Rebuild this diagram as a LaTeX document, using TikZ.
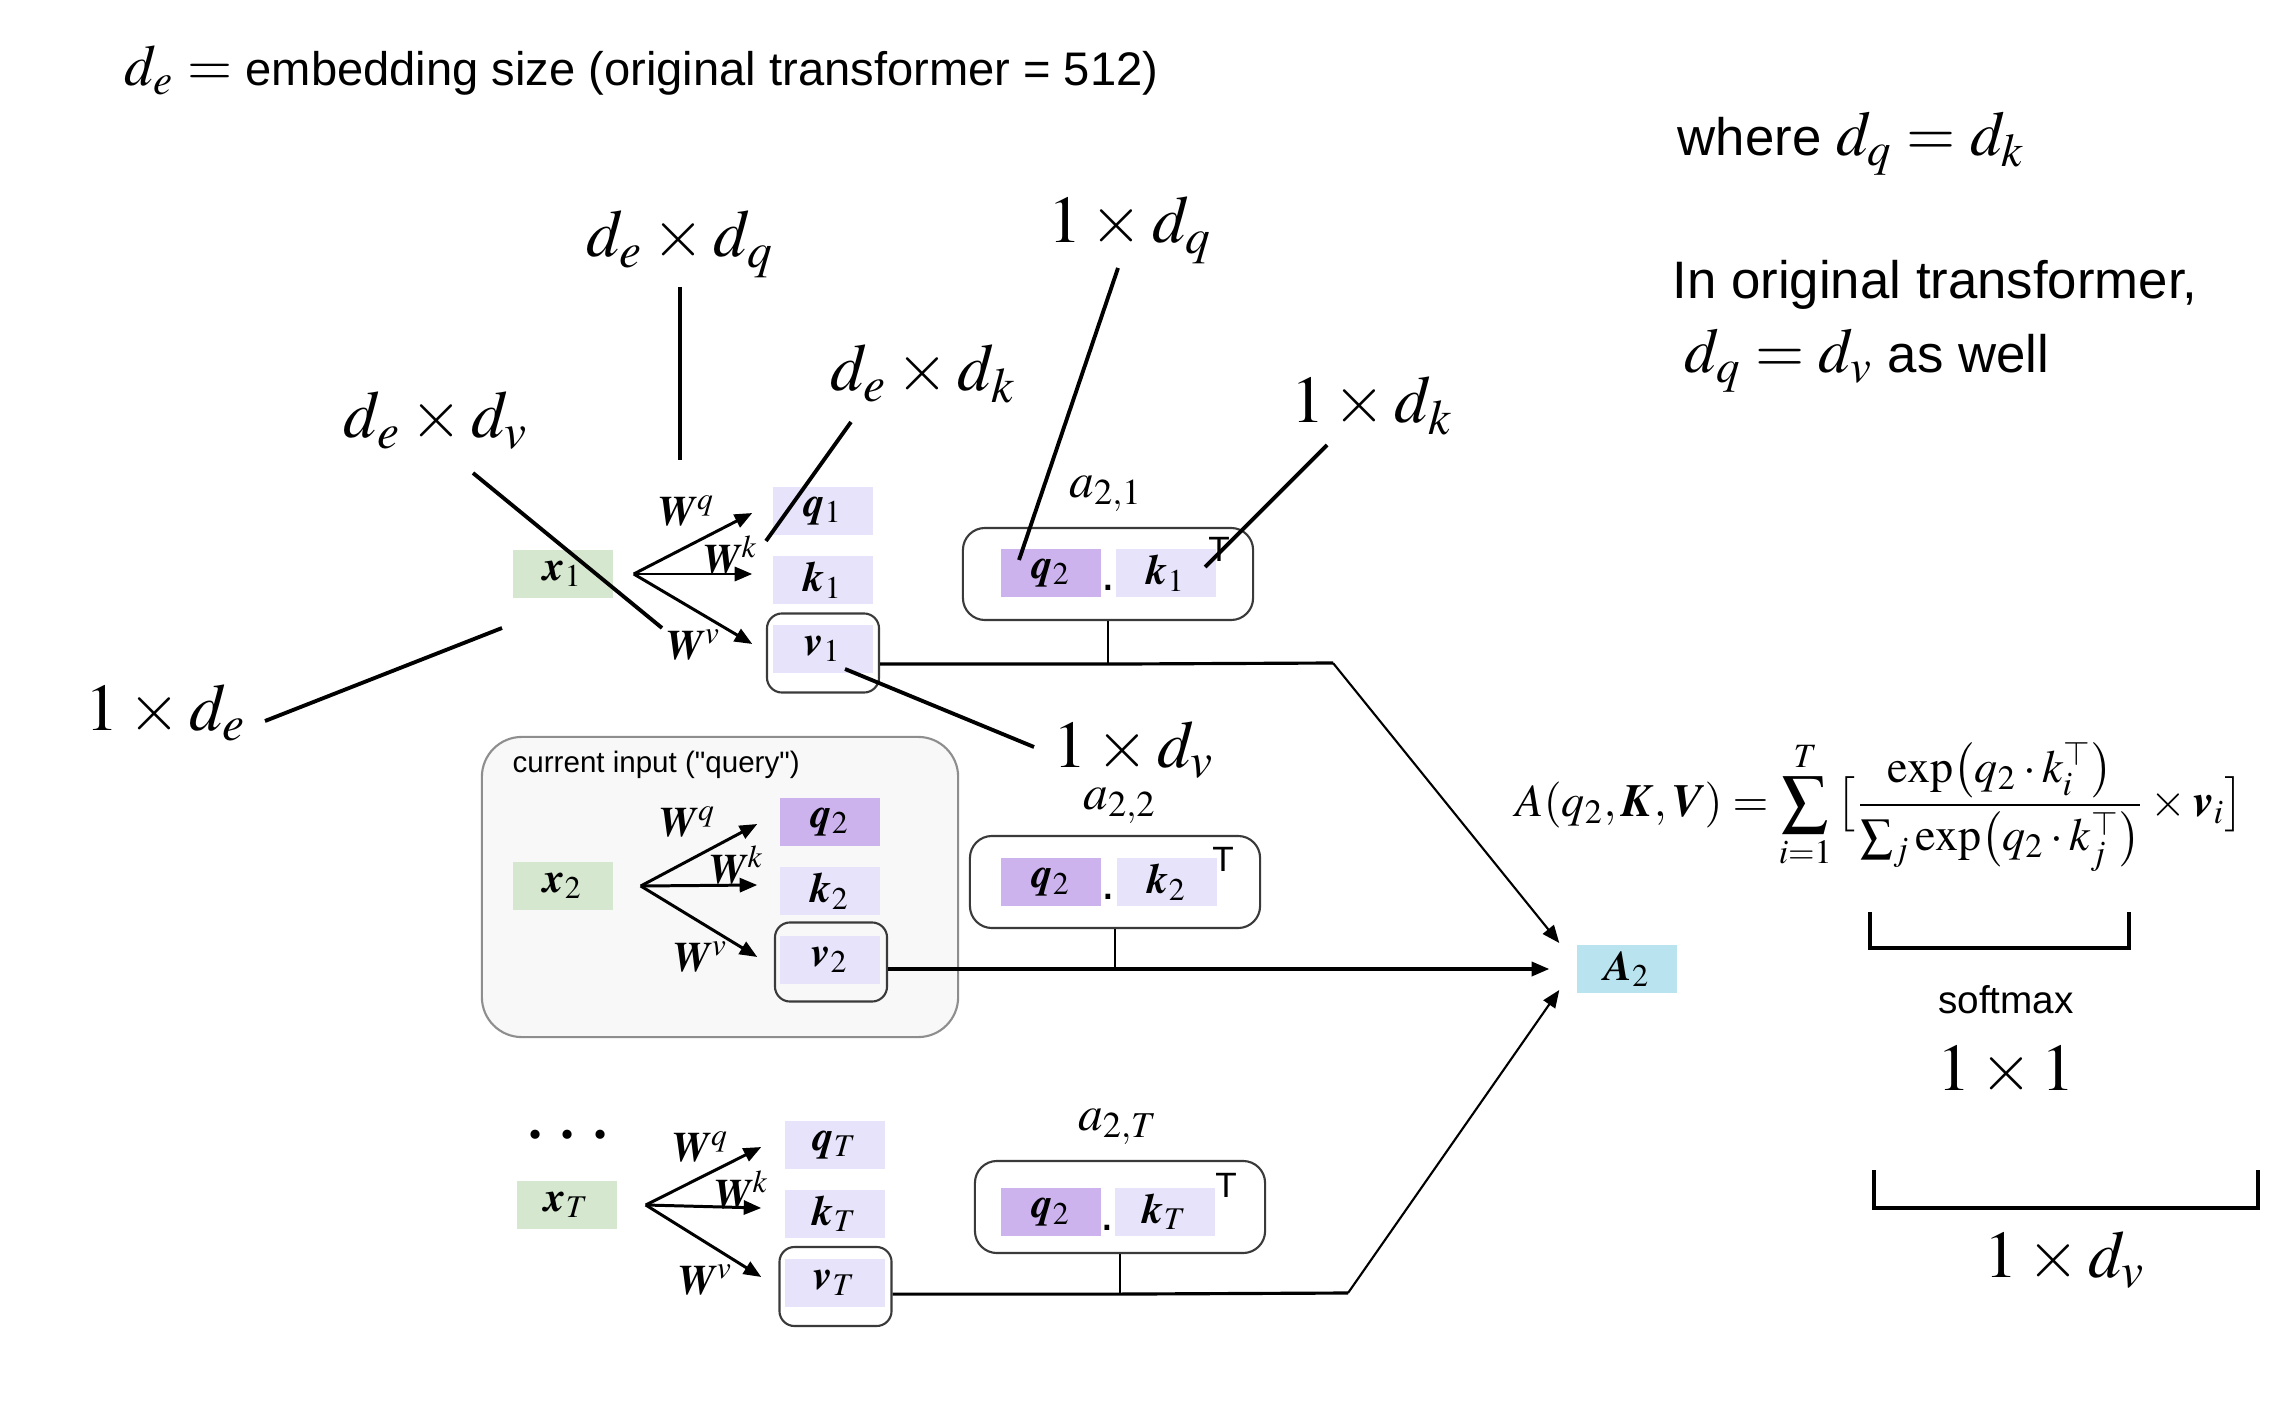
\documentclass[tikz,border=0pt]{standalone}
\usepackage{mathptmx}
\usepackage{amsmath}
\usepackage[no-math]{fontspec}
\setmainfont{Liberation Sans}
\newfontfamily\serifbf{Liberation Serif}
\newfontfamily\plainsans{Liberation Sans}[Ligatures=TeXOff]
\DeclareMathAlphabet{\mathbi}{OT1}{ptm}{b}{it}
\usetikzlibrary{arrows.meta,calc}
\definecolor{xgreen}{HTML}{D5E8CF}
\definecolor{lpurple}{HTML}{E6E3FA}
\definecolor{dpurple}{HTML}{CCB3EE}
\definecolor{acyan}{HTML}{B9E3EF}
\definecolor{graybg}{HTML}{F8F8F8}
\definecolor{grayln}{HTML}{8E8E8E}
\definecolor{boxln}{HTML}{3A3A3A}
\newcommand{\bigmath}[1]{{\fontsize{18}{18}\selectfont$#1$}}
\tikzset{
  vecbox/.style={minimum width=1cm, minimum height=0.48cm, inner sep=0pt, font=\fontsize{12}{12}\selectfont},
  xbox/.style={vecbox, fill=xgreen},
  kbox/.style={vecbox, fill=lpurple},
  qbox/.style={vecbox, fill=dpurple},
  outl/.style={draw=boxln, line width=0.6pt, rounded corners=0.15cm, inner sep=0pt},
  abox/.style={outl, rounded corners=0.22cm, minimum width=2.9cm, minimum height=0.92cm},
  vout/.style={outl, minimum width=1.12cm, minimum height=0.79cm},
  arr/.style={line width=0.85pt, -{Triangle[length=5pt,width=4pt]}},
  wlab/.style={font=\fontsize{12}{12}\selectfont, inner sep=0pt},
  dimlab/.style={font=\fontsize{19}{19}\selectfont, anchor=base, inner sep=0pt},
  alab/.style={font=\fontsize{14}{14}\selectfont, inner sep=0pt},
  dotlab/.style={font=\fontsize{14}{14}\selectfont, anchor=base, inner sep=0pt},
  tlab/.style={font=\fontsize{10}{10}\selectfont, inner sep=0pt},
  annot/.style={line width=1.1pt},
  conn/.style={line width=0.9pt},
  stub/.style={line width=0.7pt},
  toA/.style={line width=0.6pt, -{Triangle[length=5pt,width=4pt]}},
  brk/.style={line width=0.9pt},
  rtext/.style={font=\fontsize{15}{15}\selectfont, anchor=base west, inner sep=0pt}
}
\begin{document}
\begin{tikzpicture}[x=0.01cm,y=-0.01cm]
\useasboundingbox (0,0) rectangle (2280,1410);

% top texts
\node[font=\fontsize{13.4}{13.4}\selectfont, anchor=base west, inner sep=0pt] (toptxt) at (124,86) {{\fontsize{16.5}{16.5}\selectfont$d_e =$} embedding size (original transformer = 512)};
\node[rtext] (where) at (1677,156) {where \bigmath{d_q = d_k}};
\node[rtext] (orig) at (1672,299) {In original transformer,};
\node[rtext] (aswell) at (1684,373) {\bigmath{d_q = d_v} as well};

% current input box
\node[draw=grayln, fill=graybg, line width=0.6pt, rounded corners=0.4cm, minimum width=4.76cm, minimum height=3cm] (cur) at (720,887) {};
\node[anchor=west, font=\plainsans\fontsize{8.4}{8.4}\selectfont, inner sep=0pt] (curlab) at (512,765) {current input ("query")};

% row 1
\node[xbox] (x1) at (563,574) {$\mathbi{x}_1$};
\node[kbox] (q1) at (823,511) {$\mathbi{q}_1$};
\node[kbox] (k1) at (823,580) {$\mathbi{k}_1$};
\node[kbox] (v1) at (823,649) {$\mathbi{v}_1$};
\node[vout] (v1o) at (823,653) {};
\coordinate (o1) at ($(x1.east)+(20,0)$);
\draw[arr] (o1) -- ($(q1.west)+(-20,2)$);
\draw[arr] (o1) -- ($(k1.west)+(-20,-6)$);
\draw[arr] (o1) -- ($(v1.west)+(-20,-5)$);
\node[wlab] (wq1) at (686,511) {$\mathbi{W}^{q}$};
\node[wlab] (wk1) at (730,555) {$\mathbi{W}^{k}$};
\node[wlab] (wv1) at (693,645) {$\mathbi{W}^{v}$};

% row 2
\node[xbox] (x2) at (563,886) {$\mathbi{x}_2$};
\node[qbox] (q2) at (830,822) {$\mathbi{q}_2$};
\node[kbox] (k2) at (830,891) {$\mathbi{k}_2$};
\node[kbox] (v2) at (830,960) {$\mathbi{v}_2$};
\node[vout] (v2o) at (831,962) {};
\coordinate (o2) at ($(x2.east)+(27,0)$);
\draw[arr] (o2) -- ($(q2.west)+(-22,2)$);
\draw[arr] (o2) -- ($(k2.west)+(-22,-6)$);
\draw[arr] (o2) -- ($(v2.west)+(-22,-3)$);
\node[wlab] (wq2) at (687,822) {$\mathbi{W}^{q}$};
\node[wlab] (wk2) at (736,865) {$\mathbi{W}^{k}$};
\node[wlab] (wv2) at (700,957) {$\mathbi{W}^{v}$};

% row T
\node[font=\serifbf\bfseries\fontsize{16}{16}\selectfont, inner sep=0pt] (dots) at (568,1135) {. . .};
\node[xbox] (xT) at (567,1205) {$\mathbi{x}_T$};
\node[kbox] (qT) at (835,1145) {$\mathbi{q}_T$};
\node[kbox] (kT) at (835,1214) {$\mathbi{k}_T$};
\node[kbox] (vT) at (835,1283) {$\mathbi{v}_T$};
\node[vout] (vTo) at (835.5,1286.5) {};
\coordinate (oT) at ($(xT.east)+(28,0)$);
\draw[arr] (oT) -- ($(qT.west)+(-23,2)$);
\draw[arr] (oT) -- ($(kT.west)+(-23,-6)$);
\draw[arr] (oT) -- ($(vT.west)+(-23,-6)$);
\node[wlab] (wqT) at (700,1147) {$\mathbi{W}^{q}$};
\node[wlab] (wkT) at (741,1190) {$\mathbi{W}^{k}$};
\node[wlab] (wvT) at (705,1280) {$\mathbi{W}^{v}$};

% attention score boxes
\node[abox] (a21) at (1108,574) {};
\node[qbox] (a21q) at (1051,573) {$\mathbi{q}_2$};
\node[kbox] (a21k) at (1166,573) {$\mathbi{k}_1$};
\node[dotlab] (a21d) at (1108,591) {.};
\node[tlab] (a21t) at (1219,549) {T};
\node[alab] (a21l) at (1106,494) {$a_{2,1}$};

\node[abox] (a22) at (1115,882) {};
\node[qbox] (a22q) at (1051,882) {$\mathbi{q}_2$};
\node[kbox] (a22k) at (1167,882) {$\mathbi{k}_2$};
\node[dotlab] (a22d) at (1108,899) {.};
\node[tlab] (a22t) at (1223,859) {T};
\node[alab] (a22l) at (1120,806) {$a_{2,2}$};

\node[abox] (a2T) at (1120,1207) {};
\node[qbox] (a2Tq) at (1051,1212) {$\mathbi{q}_2$};
\node[kbox] (a2Tk) at (1165,1212) {$\mathbi{k}_T$};
\node[dotlab] (a2Td) at (1107,1230) {.};
\node[tlab] (a2Tt) at (1226,1185) {T};
\node[alab] (a2Tl) at (1118,1127) {$a_{2,T}$};

% output
\node[vecbox, fill=acyan] (A2) at (1627,969) {$\mathbi{A}_2$};

% connections
\coordinate (j1) at ($(a21.south)+(0,43)$);
\coordinate (b1) at (1333,663);
\draw[stub] (a21.south) -- (j1);
\draw[conn] (v1o.east |- j1) -- (j1) -- (b1);
\draw[toA] (b1) -- ($(A2.west)+(-17,-26)$);

\coordinate (j2) at (a22.south |- A2.west);
\draw[stub] (a22.south) -- (j2);
\draw[conn, -{Triangle[length=5pt,width=4pt]}] (v2o.east |- A2.west) -- ($(A2.west)+(-27,0)$);

\coordinate (j3) at ($(a2T.south)+(0,40)$);
\coordinate (b3) at (1348,1293);
\draw[stub] (a2T.south) -- (j3);
\draw[conn] (vTo.east |- j3) -- (j3) -- (b3);
\draw[toA] (b3) -- ($(A2.west)+(-17,21)$);

% dimension annotations
\node[dimlab] (ldq) at (680,257) {$d_e\times d_q$};
\node[dimlab] (ldk) at (923,391) {$d_e\times d_k$};
\node[dimlab] (ldv) at (436,438) {$d_e\times d_v$};
\node[dimlab] (lde) at (166,730) {$1\times d_e$};
\node[dimlab] (lvv) at (1134,767) {$1\times d_v$};
\node[dimlab] (lqq) at (1130,243) {$1\times d_q$};
\node[dimlab] (lkk) at (1372,423) {$1\times d_k$};

\coordinate (an1a) at (680,287); \coordinate (an1b) at (680,460);
\coordinate (an2a) at (851,422); \coordinate (an2b) at (766,541);
\coordinate (an3a) at (473,473); \coordinate (an3b) at (662,628);
\coordinate (an4a) at (265,721); \coordinate (an4b) at (502,628);
\coordinate (an5a) at (845,669); \coordinate (an5b) at (1034,747);
\coordinate (an6a) at (1118,268); \coordinate (an6b) at (1019,560);
\coordinate (an7a) at (1327,445); \coordinate (an7b) at (1205,567);
\draw[annot] (an1a) -- (an1b);
\draw[annot] (an2a) -- (an2b);
\draw[annot] (an3a) -- (an3b);
\draw[annot] (an4a) -- (an4b);
\draw[annot] (an5a) -- (an5b);
\draw[annot] (an6a) -- (an6b);
\draw[annot] (an7a) -- (an7b);

% formula
\node[anchor=west, inner sep=0pt, font=\fontsize{13.1}{13.1}\selectfont] (formula) at (1515,806)
 {$\displaystyle A(q_2,\mathbi{K},\mathbi{V}) = \sum_{i=1}^{T}\,\bigl[\frac{\exp\bigl(q_2\cdot k_i^{\top}\bigr)}{\sum_j \exp\bigl(q_2\cdot k_j^{\top}\bigr)}\times \mathbi{v}_i\bigr]$};

% brackets
\coordinate (s1) at (1870,912); \coordinate (s2) at (1870,948);
\coordinate (s3) at (2129,948); \coordinate (s4) at (2129,912);
\draw[brk] (s1) -- (s2) -- (s3) -- (s4);
\node[font=\fontsize{11}{11}\selectfont, inner sep=0pt] (smax) at (2006,1000) {softmax};
\node[dimlab] (l11) at (2006,1090) {$1\times 1$};
\coordinate (t1) at (1874,1170); \coordinate (t2) at (1874,1208);
\coordinate (t3) at (2258,1208); \coordinate (t4) at (2258,1170);
\draw[brk] (t1) -- (t2) -- (t3) -- (t4);
\node[dimlab] (l1dv) at (2065,1277) {$1\times d_v$};
\end{tikzpicture}
\end{document}
